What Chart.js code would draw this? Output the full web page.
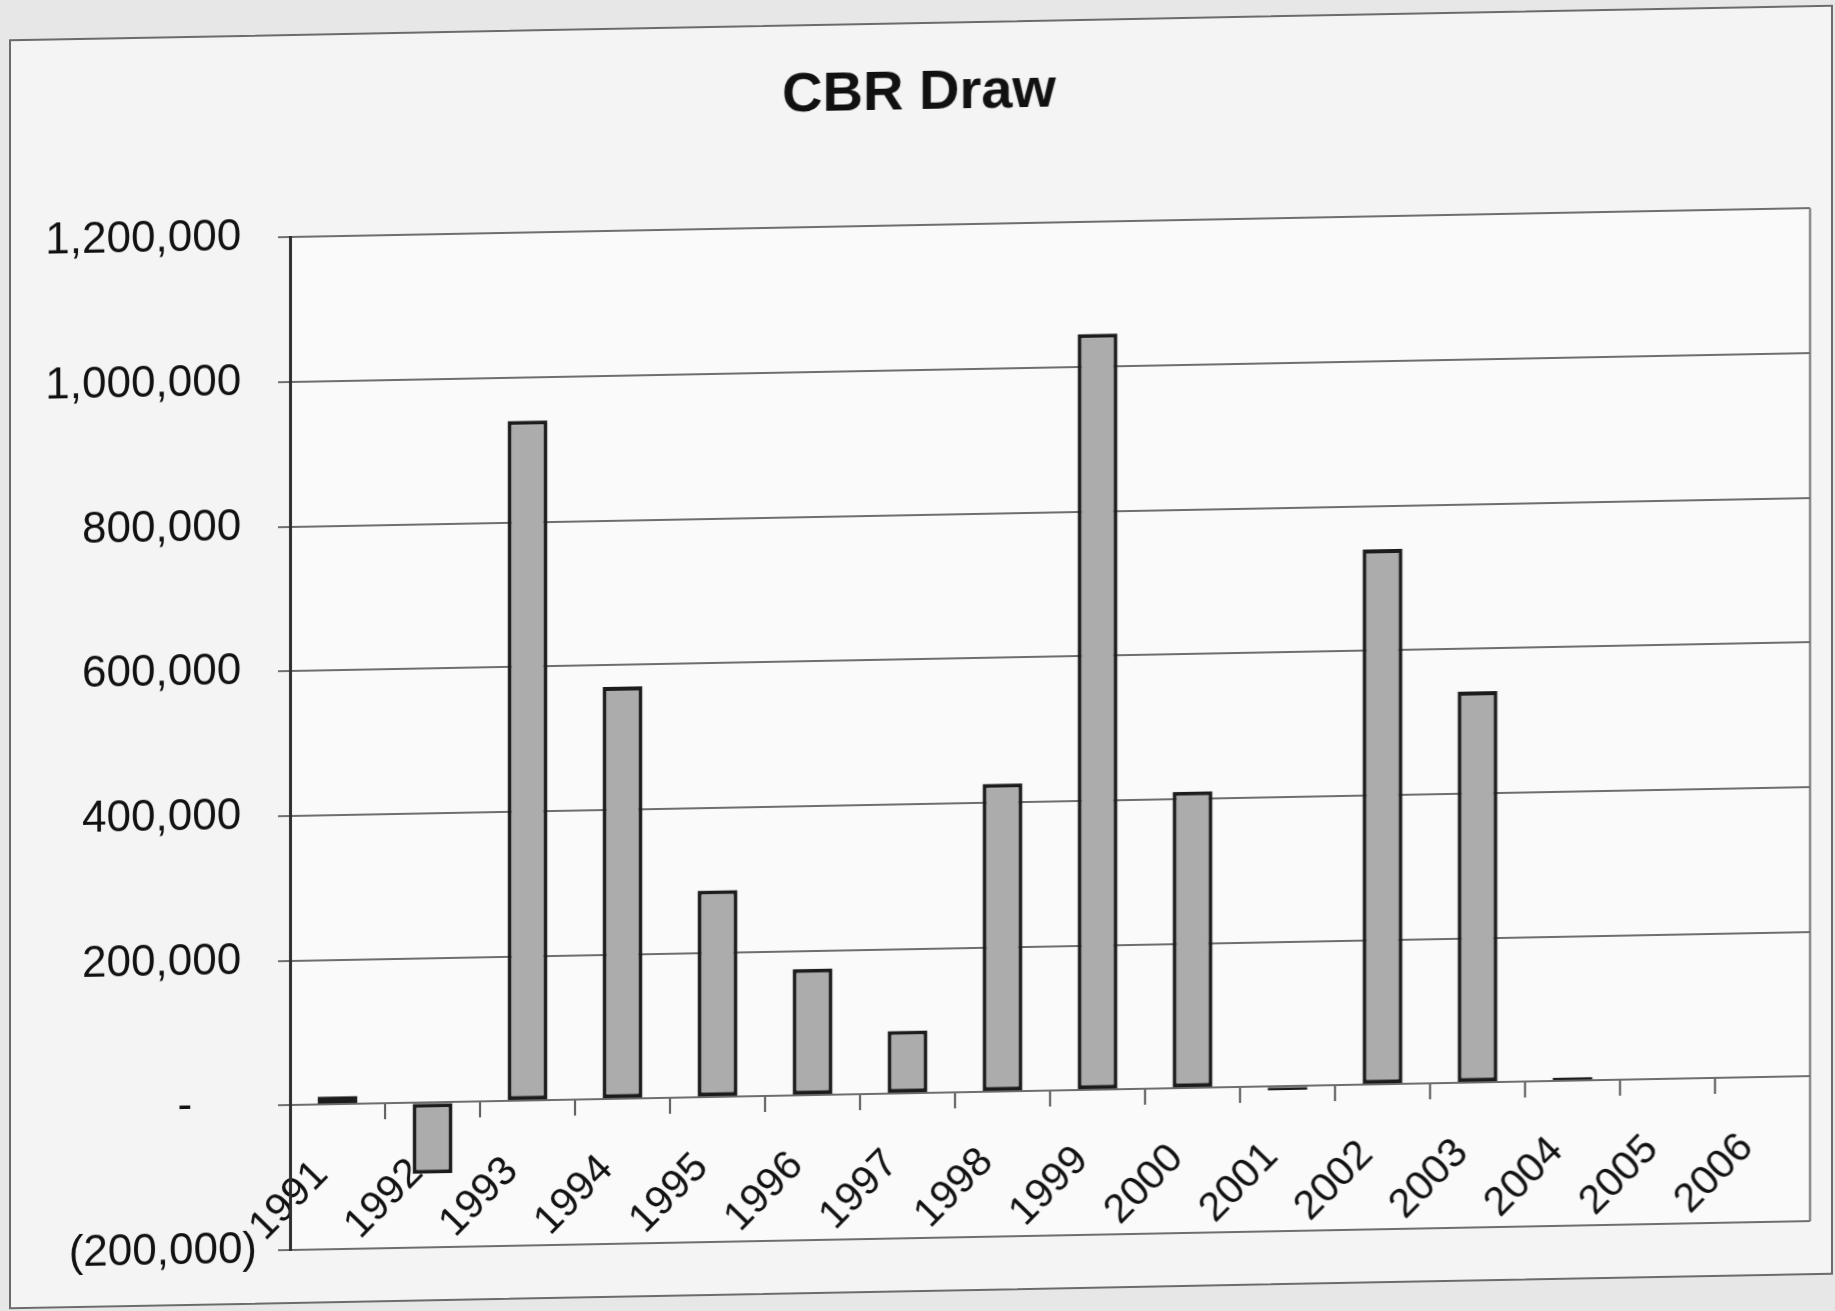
<!DOCTYPE html>
<html>
<head>
<meta charset="utf-8">
<title>CBR Draw</title>
<script src="https://cdn.jsdelivr.net/npm/chart.js@4.4.1/dist/chart.umd.min.js"></script>
<style>
  html, body { margin: 0; padding: 0; width: 1835px; height: 1311px; overflow: hidden; background: #e7e7e7; }
  #frame {
    position: absolute; left: 9px; top: 22px; width: 1824px; height: 1270px;
    box-sizing: border-box; border: 2px solid #6b6b6b; background: #f4f4f4;
    transform: skewY(-1.09deg); transform-origin: 50% 50%;
  }
  #chart { display: block; width: 1820px; height: 1266px; }
</style>
</head>
<body>
<div id="frame"><canvas id="chart" width="1820" height="1266"></canvas></div>
<script>
// Years on the category axis
const years = ['1991', '1992', '1993', '1994', '1995', '1996', '1997', '1998',
               '1999', '2000', '2001', '2002', '2003', '2004', '2005', '2006'];

// Annual CBR draw amounts
const cbrDraw = [11000, -98000, 940000, 570000, 286000, 175000, 87000, 426000,
                 1045000, 410000, -5000, 740000, 541000, 5000, 0, 0];

// Value axis range and step
const yMin = -200000;
const yMax = 1200000;
const yStep = 200000;

const FONT = "'Liberation Sans', Arial, Helvetica, sans-serif";

// Accounting style: negatives in brackets, zero as a dash, positives padded for the bracket
function accounting(v) {
  if (v === 0) return '-\u2007\u2007 \u200A';
  if (v < 0) return '(' + Math.abs(v).toLocaleString('en-US') + ')';
  return v.toLocaleString('en-US') + ' \u200A';
}

// Plot area fill and right-hand frame line
const plotFrame = {
  id: 'plotFrame',
  beforeDraw(chart) {
    const { ctx, chartArea: a } = chart;
    ctx.save();
    ctx.fillStyle = '#fafafa';
    ctx.fillRect(a.left, a.top, a.right - a.left, a.bottom - a.top);
    ctx.restore();
  },
  beforeDatasetsDraw(chart) {
    const { ctx, chartArea: a } = chart;
    ctx.save();
    ctx.strokeStyle = '#707070';
    ctx.lineWidth = 2;
    ctx.beginPath();
    ctx.moveTo(a.right, a.top);
    ctx.lineTo(a.right, a.bottom);
    ctx.stroke();
    ctx.restore();
  }
};

new Chart(document.getElementById('chart'), {
  type: 'bar',
  data: {
    labels: years,
    datasets: [{
      label: 'CBR Draw',
      data: cbrDraw,
      backgroundColor: '#acacac',
      borderColor: '#1c1c1c',
      borderWidth: 4,
      borderSkipped: false,
      barPercentage: 0.42,
      categoryPercentage: 1
    }]
  },
  options: {
    responsive: false,
    animation: false,
    devicePixelRatio: 1,
    layout: { padding: { left: 17, right: 21, top: 0, bottom: 52 } },
    plugins: {
      legend: { display: false },
      tooltip: { enabled: false },
      title: {
        display: true,
        text: 'CBR Draw',
        color: '#111',
        font: { family: FONT, size: 56, weight: 'bold' },
        padding: { top: 36, bottom: 98 }
      }
    },
    scales: {
      x: {
        position: { y: 0 },
        offset: true,
        grid: {
          display: true,
          offset: true,
          drawOnChartArea: false,
          drawTicks: true,
          tickLength: 15,
          color: '#555',
          lineWidth: 2
        },
        border: { display: true, color: '#6e6e6e', width: 2 },
        ticks: {
          autoSkip: false,
          minRotation: 45,
          maxRotation: 45,
          padding: 31,
          labelOffset: -16,
          color: '#111',
          font: { family: FONT, size: 41 }
        }
      },
      y: {
        position: 'left',
        min: yMin,
        max: yMax,
        afterFit(scale) { scale.width = 262; },
        grid: {
          color: '#6e6e6e',
          lineWidth: 2,
          drawTicks: true,
          tickLength: 12
        },
        border: { display: true, color: '#2e2e2e', width: 3 },
        ticks: {
          stepSize: yStep,
          padding: 21,
          color: '#111',
          font: { family: FONT, size: 44 },
          callback: (v) => accounting(v)
        }
      }
    }
  },
  plugins: [plotFrame]
});
</script>
</body>
</html>
